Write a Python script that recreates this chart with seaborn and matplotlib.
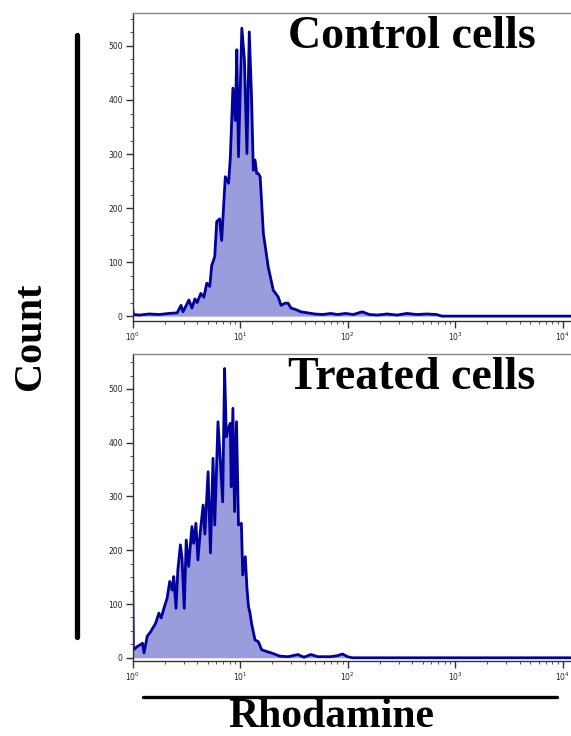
import numpy as np
import pandas as pd
import matplotlib
matplotlib.use("Agg")
import matplotlib.pyplot as plt
from matplotlib.lines import Line2D
from matplotlib.ticker import MultipleLocator, LogLocator, NullFormatter
import seaborn as sns

# flow cytometry histograms (rhodamine intensity, count)
control_rho = [1.0, 1.02, 1.16, 1.43, 1.77, 2.19, 2.60, 2.83, 2.95, 3.35, 3.57, 3.81,
               3.99, 4.32, 4.61, 4.91, 5.23, 5.46, 5.82, 6.07, 6.47, 6.75, 7.30, 7.83,
               8.12, 8.59, 9.03, 9.35, 9.68, 10.4, 11.0, 11.6, 12.2, 12.8, 13.3, 13.8,
               14.3, 14.8, 15.4, 16.5, 18.3, 20.4, 22.6, 24.1, 26.3, 28.0, 29.8, 33.2,
               36.9, 42.8, 49.6, 58.9, 69.7, 80.9, 95.9, 113, 137, 160, 189, 234, 289,
               357, 442, 546, 675, 751, 12000]
control_cnt = [17, 3, 2, 4, 3, 5, 6, 20, 8, 30, 15, 32,
               25, 42, 35, 61, 55, 94, 110, 175, 180, 140, 258, 246,
               292, 422, 362, 493, 295, 533, 474, 301, 526, 406, 270, 289,
               264, 264, 258, 153, 91, 48, 36, 20, 24, 24, 15, 12,
               8, 6, 4, 3, 5, 3, 5, 3, 8, 3, 2, 4, 2,
               5, 3, 4, 3, 0, 0]

treated_rho = [1.0, 1.02, 1.11, 1.24, 1.28, 1.37, 1.47, 1.64, 1.76, 1.85, 1.96, 2.10,
               2.22, 2.34, 2.42, 2.54, 2.64, 2.79, 2.89, 3.03, 3.16, 3.33, 3.57, 3.70,
               3.89, 4.06, 4.26, 4.54, 4.71, 5.05, 5.31, 5.61, 5.82, 6.24, 6.57, 6.90,
               7.19, 7.46, 7.72, 8.12, 8.29, 8.59, 8.90, 9.28, 9.68, 10.3, 10.6, 11.2,
               11.6, 12.0, 12.4, 12.8, 13.8, 14.8, 15.9, 17.5, 19.6, 23.5, 28.0, 34.6,
               39.3, 45.6, 53.0, 69.7, 80.9, 89.9, 100, 111, 12000]
treated_cnt = [186, 15, 21, 27, 9, 40, 48, 64, 83, 74, 92, 111,
               142, 126, 151, 92, 163, 210, 185, 92, 219, 170, 244, 213,
               250, 182, 232, 284, 230, 346, 195, 371, 247, 439, 365, 290,
               538, 411, 424, 436, 318, 464, 272, 439, 247, 250, 154, 188,
               130, 95, 83, 64, 33, 30, 15, 12, 9, 3, 2, 6,
               1, 6, 2, 2, 4, 7, 2, 0, 0]

panels = [("Control cells", control_rho, control_cnt),
          ("Treated cells", treated_rho, treated_cnt)]

line_col = "#00009C"
fill_col = "#9A9CDC"

sns.set_style("ticks")
plt.rcParams["font.family"] = ["DejaVu Sans"]
plt.rcParams["text.color"] = "black"

W, H = 571, 736
fig = plt.figure(figsize=(W / 100, H / 100), dpi=100)

# axes boxes in pixels: (top, bottom, ylim, title centre y)
boxes = [(13, 321, (-9, 561), 37), (354, 661, (-6, 565), 378)]
x0_px, dec_px = 132.5, 107.5
x_right = 4.2

serif = ["Liberation Serif", "DejaVu Serif"]

for (title, rho, cnt), (top, bot, ylim, ty) in zip(panels, boxes):
    left = x0_px / W
    width = x_right * dec_px / W
    ax = fig.add_axes([left, 1 - bot / H, width, (bot - top) / H])
    df = pd.DataFrame({"Rhodamine": rho, "Count": cnt})
    ax.fill_between(df["Rhodamine"], 0, df["Count"], color=fill_col, lw=0)
    sns.lineplot(data=df, x="Rhodamine", y="Count", ax=ax, color=line_col,
                 lw=2.0, sort=False, estimator=None)
    ax.set_xscale("log")
    ax.set_xlim(1, 10 ** x_right)
    ax.set_ylim(*ylim)
    ax.set_xlabel("")
    ax.set_ylabel("")
    ax.xaxis.set_major_locator(LogLocator(base=10, numticks=10))
    ax.xaxis.set_minor_locator(LogLocator(base=10, subs=np.arange(2, 10), numticks=20))
    ax.xaxis.set_minor_formatter(NullFormatter())
    ax.yaxis.set_major_locator(MultipleLocator(100))
    ax.yaxis.set_minor_locator(MultipleLocator(25))
    ax.tick_params(axis="both", which="major", length=5, width=1.0, color="#333333",
                   labelsize=5.5, labelcolor="#222222", pad=2)
    ax.tick_params(axis="both", which="minor", length=2.5, width=0.7, color="#555555")
    for s in ["left", "bottom"]:
        ax.spines[s].set_color("#333333")
        ax.spines[s].set_linewidth(1.0)
    ax.spines["top"].set_color("#888888")
    ax.spines["top"].set_linewidth(1.0)
    ax.spines["right"].set_visible(False)
    fig.text(412 / W, 1 - ty / H, title, family=serif, fontweight="bold",
             fontsize=33, ha="center", va="center", color="black")

# y-axis bar and label
fig.add_artist(Line2D([77 / W, 77 / W], [1 - 35 / H, 1 - 637 / H], color="black", lw=3.8))
fig.text(30 / W, 1 - 336 / H, "Count", family=serif, fontweight="bold",
         fontsize=29, rotation=90, ha="center", va="center", color="black")

# x-axis bar and label
fig.add_artist(Line2D([143 / W, 557 / W], [1 - 697 / H, 1 - 697 / H], color="black", lw=2.4))
fig.text(331 / W, 1 - 727 / H, "Rhodamine", family=serif, fontweight="bold",
         fontsize=30, ha="center", va="baseline", color="black")

fig.savefig("out.png", dpi=100)
